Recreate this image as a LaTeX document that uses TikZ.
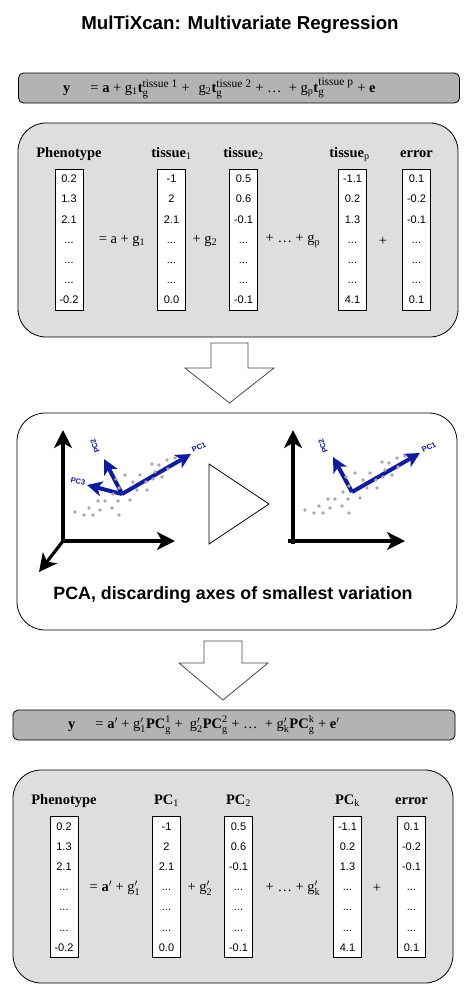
\documentclass[tikz,border=0pt]{standalone}
\usepackage{amsmath}
\usepackage{fontspec}
\setmainfont{Liberation Serif}
\setsansfont{Liberation Sans}
\usepackage{xcolor}
\usetikzlibrary{arrows.meta}

\definecolor{panelgray}{HTML}{DEDEDE}
\definecolor{bargray}{HTML}{B3B3B3}
\definecolor{pcblue}{HTML}{0D1AA6}
\definecolor{dotgray}{HTML}{A8A8A8}

\newcommand{\tissuet}[1]{$\textbf{t}^{\text{\fontsize{11.5}{12}\selectfont tissue #1}}_{\text{\fontsize{11}{12}\selectfont g}}$}
\newcommand{\pcterm}[1]{$\textbf{PC}^{\text{#1}}_{\text{g}}$}
\newcommand{\gprime}[1]{g$'_{\text{#1}}$}

\begin{document}
\begin{tikzpicture}[x=1pt,y=1pt,
        panel/.style={draw, rounded corners=28pt, fill=panelgray, minimum width=440pt, line width=0.8pt},
        eqbar/.style={draw, rounded corners=5pt, fill=bargray, minimum width=441pt, minimum height=30pt, line width=0.8pt},
        eqtext/.style={font=\fontsize{14.5}{16}\selectfont, inner sep=0pt},
        colbox/.style={draw, fill=white, minimum width=28pt, minimum height=141pt, inner sep=0pt, align=center, font=\fontsize{11}{20.2}\selectfont\sffamily},
        hdr/.style={font=\fontsize{14.5}{16}\selectfont\bfseries, text height=10pt, text depth=3pt, inner sep=0pt},
        op/.style={font=\fontsize{14.5}{16}\selectfont, inner sep=0pt},
        axis/.style={line width=3.2pt, -{Stealth[length=18pt, width=18pt, inset=5pt]}},
        pcarrow/.style={pcblue, line width=4pt, -{Stealth[length=15pt, width=15pt, inset=4pt]}},
        pclabel/.style={text=pcblue, font=\sffamily\bfseries\fontsize{7.5}{8}\selectfont, inner sep=0pt},
        bigarrow/.style={draw=black!70, fill=white, line width=0.8pt}]
        \useasboundingbox (0,0) rectangle (467,-986);

        % Title
        \node[font=\sffamily\bfseries\fontsize{18.7}{22}\selectfont] (title) at (240,-25) {MulTiXcan: Multivariate Regression};

        % Tissue regression
        \node[eqbar] (barA) at (239,-88) {};
        \node[eqtext, anchor=west] (eqA) at (63,-88)
            {\textbf{y}\hspace{20pt}= \textbf{a} +\ g\textsubscript{1}\tissuet{1}\ +\hspace{9pt}g\textsubscript{2}\tissuet{2}\ + \ldots\ \ + g\textsubscript{p}\tissuet{p} + \textbf{e}};

        \node[panel, minimum height=214pt] (panelA) at (238,-230) {};
        \node[colbox] (phenoA) at (69,-239.5) {0.2\\1.3\\2.1\\...\\...\\...\\-0.2};
        \node[colbox] (tissueA1) at (171.5,-239.5) {-1\\2\\2.1\\...\\...\\...\\0.0};
        \node[colbox] (tissueA2) at (243.5,-239.5) {0.5\\0.6\\-0.1\\...\\...\\...\\-0.1};
        \node[colbox] (tissueAp) at (352.5,-239.5) {-1.1\\0.2\\1.3\\...\\...\\...\\4.1};
        \node[colbox] (errorA) at (416.5,-239.5) {0.1\\-0.2\\-0.1\\...\\...\\...\\0.1};
        \node[hdr, above of=phenoA, node distance=86pt] (phenoAhead) {Phenotype};
        \node[hdr, above of=tissueA1, node distance=86pt] (tissueA1head) {tissue\textsubscript{\mdseries 1}};
        \node[hdr, above of=tissueA2, node distance=86pt] (tissueA2head) {tissue\textsubscript{\mdseries 2}};
        \node[hdr, above of=tissueAp, node distance=86pt, xshift=-3pt] (tissueAphead) {tissue\textsubscript{\mdseries p}};
        \node[hdr, above of=errorA, node distance=86pt] (errorAhead) {error};
        \node[op] (opA1) at (122,-241) {= a + g\textsubscript{1}};
        \node[op] (opA2) at (205,-241) {+ g\textsubscript{2}};
        \node[op] (opA3) at (293,-241) {+ \ldots\ + g\textsubscript{p}};
        \node[op] (opA4) at (383,-241) {+};

        % Arrow down to PCA
        \draw[bigarrow] (211,-343) -- (248,-343) -- (248,-368) -- (274,-368) -- (229.5,-403)
            -- (185,-368) -- (211,-368) -- cycle;

        % PCA
        \node[panel, fill=white, minimum height=217pt] (panelB) at (237,-521.5) {};
        \node[font=\sffamily\bfseries\fontsize{17.8}{20}\selectfont] (pcacap) at (233,-595) {PCA, discarding axes of smallest variation};
        \draw[line width=0.8pt] (209,-464) -- (269,-504) -- (209,-544) -- cycle;

        % left plot, three axes
        \coordinate (oL) at (63,-541);
        \coordinate (pcL) at (122,-494);
        \draw[axis] (oL) -- (63,-430);
        \draw[axis] (oL) -- (175,-541);
        \draw[axis] (oL) -- (39,-572);
        \draw[pcarrow] (pcL) -- (191,-454);
        \draw[pcarrow] (pcL) -- (104,-459);
        \draw[pcarrow] (pcL) -- (87,-485);
        \begin{scope}[shift={(pcL)}]
            \foreach \dx/\dy in {-47/-18,-38/-21,-33/-14,-29/-21,-22/-16,-24/-7,-17/-7,-10/-14,-3/-21,-9/0,-4/-7,-6/15,-3/6,3/19,8/-6,11/12,15/4,18/19,25/4,24/12,30/30,31/15,33/22,37/29,40/17,45/34,46/25,53/36}
                \fill[dotgray] (\dx,\dy) circle (1.8);
        \end{scope}
        \node[pclabel, rotate=25] (pc1L) at (199,-447) {PC1};
        \node[pclabel, rotate=110] (pc2L) at (95,-446) {PC2};
        \node[pclabel, rotate=-12] (pc3L) at (78,-481) {PC3};

        % right plot, two axes
        \coordinate (oR) at (293,-541);
        \coordinate (pcR) at (352,-492);
        \draw[axis] (293,-544) -- (293,-430);
        \draw[axis] (288,-541) -- (405,-541);
        \draw[pcarrow] (pcR) -- (420,-453);
        \draw[pcarrow] (pcR) -- (333,-457);
        \begin{scope}[shift={(pcR)}]
            \foreach \dx/\dy in {-47/-18,-38/-21,-33/-14,-29/-21,-22/-16,-24/-7,-17/-7,-10/-14,-3/-21,-9/0,-4/-7,-6/15,-3/6,3/19,8/-6,11/12,15/4,18/19,25/4,24/12,30/30,31/15,33/22,37/29,40/17,45/34,46/25,53/36}
                \fill[dotgray] (\dx,\dy) circle (1.8);
        \end{scope}
        \node[pclabel, rotate=25] (pc1R) at (429,-447) {PC1};
        \node[pclabel, rotate=110] (pc2R) at (323,-446) {PC2};

        % Arrow down to PC regression
        \draw[bigarrow] (204,-641) -- (242,-641) -- (242,-663) -- (268,-663) -- (223,-700)
            -- (179,-663) -- (204,-663) -- cycle;

        % PC regression
        \node[eqbar, minimum width=442pt] (barB) at (234,-725) {};
        \node[eqtext, anchor=west] (eqB) at (68,-725)
            {\textbf{y}\hspace{20pt}= \textbf{a}$'$ +\ \gprime{1}\pcterm{1} +\ \ \gprime{2}\pcterm{2} + \ldots\ \ + \gprime{k}\pcterm{k} + \textbf{e}$'$};

        \node[panel, minimum height=213pt] (panelC) at (233,-876.5) {};
        \node[colbox] (phenoB) at (64,-887) {0.2\\1.3\\2.1\\...\\...\\...\\-0.2};
        \node[colbox] (pcB1) at (166.5,-887) {-1\\2\\2.1\\...\\...\\...\\0.0};
        \node[colbox] (pcB2) at (238.5,-887) {0.5\\0.6\\-0.1\\...\\...\\...\\-0.1};
        \node[colbox] (pcBk) at (347.5,-887) {-1.1\\0.2\\1.3\\...\\...\\...\\4.1};
        \node[colbox] (errorB) at (411.5,-887) {0.1\\-0.2\\-0.1\\...\\...\\...\\0.1};
        \node[hdr, above of=phenoB, node distance=86pt] (phenoBhead) {Phenotype};
        \node[hdr, above of=pcB1, node distance=86pt] (pcB1head) {PC\textsubscript{\mdseries 1}};
        \node[hdr, above of=pcB2, node distance=86pt] (pcB2head) {PC\textsubscript{\mdseries 2}};
        \node[hdr, above of=pcBk, node distance=86pt] (pcBkhead) {PC\textsubscript{\mdseries k}};
        \node[hdr, above of=errorB, node distance=86pt] (errorBhead) {error};
        \node[op] (opB1) at (115,-888) {= \textbf{a}$'$ + \gprime{1}};
        \node[op] (opB2) at (200,-888) {+ \gprime{2}};
        \node[op] (opB3) at (293,-888) {+ \ldots\ + \gprime{k}};
        \node[op] (opB4) at (377,-888) {+};
    \end{tikzpicture}
\end{document}
